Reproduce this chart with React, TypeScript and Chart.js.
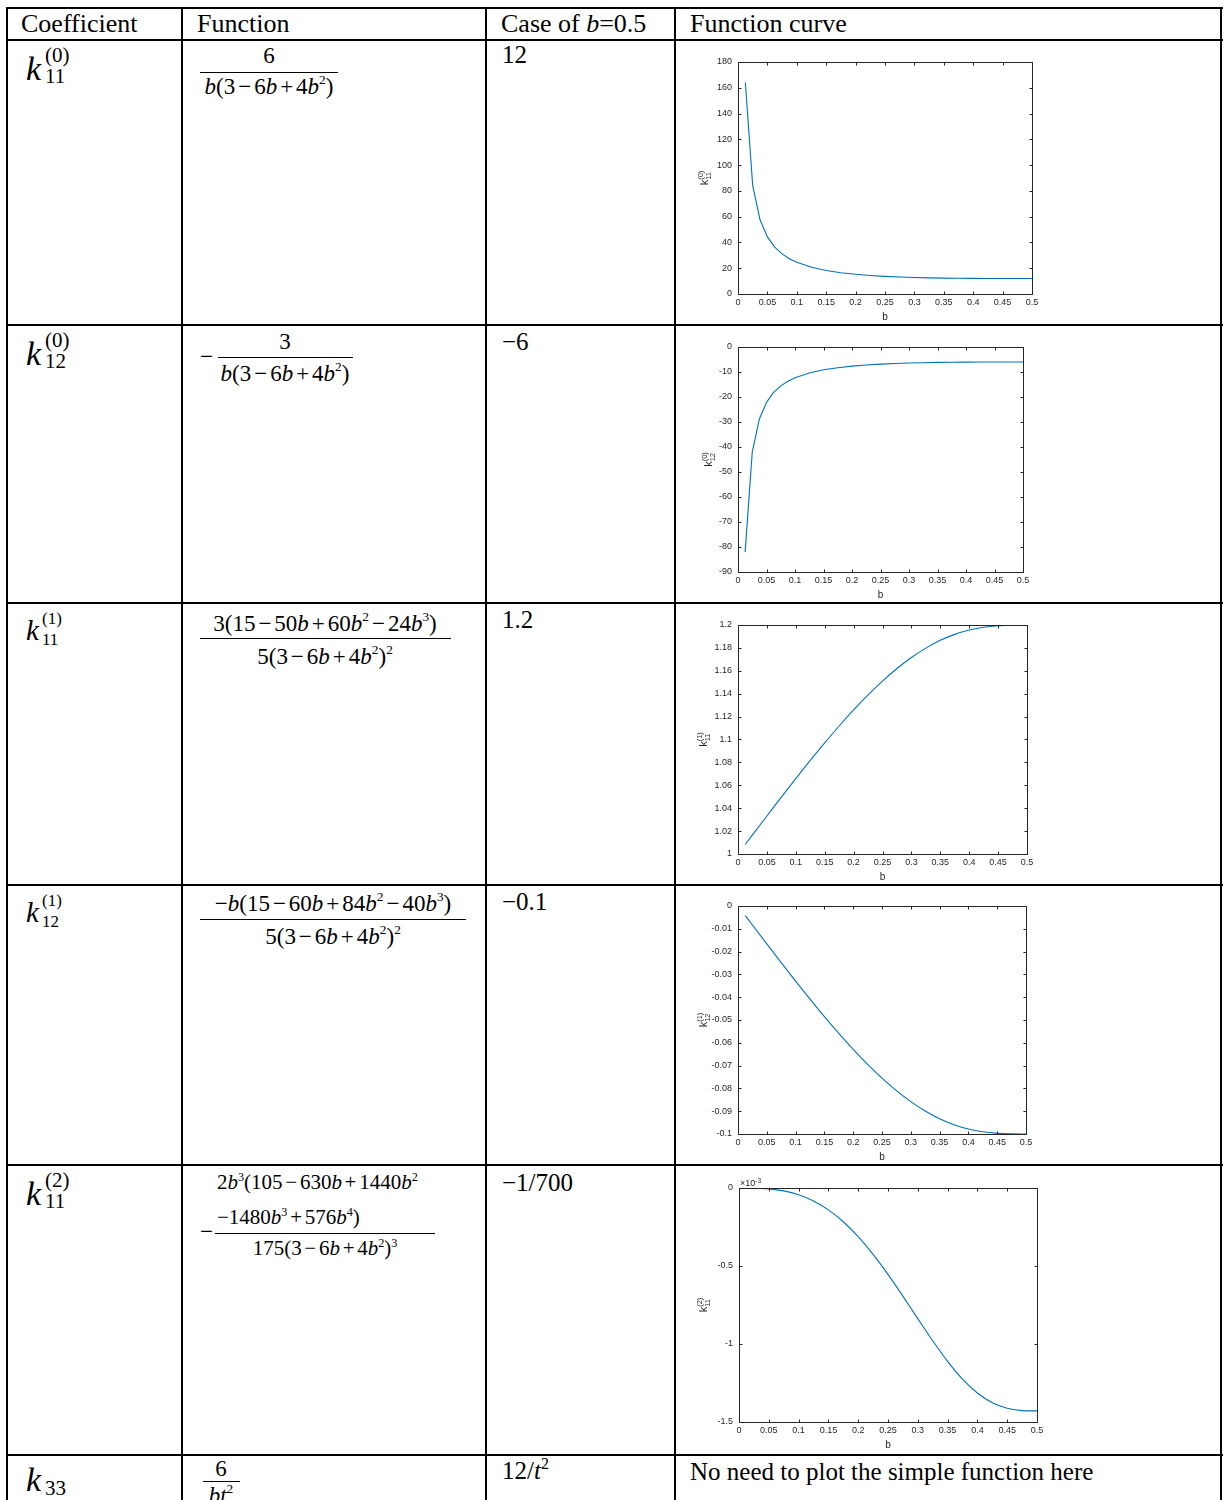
import React, { useEffect, useRef } from "react";
import { Chart, registerables } from "chart.js";

Chart.register(...registerables);

// ---------------- data ----------------
const B_FINE = [0.0125, 0.025, 0.0375, 0.05, 0.0625, 0.075, 0.0875, 0.1, 0.125, 0.15, 0.175, 0.2, 0.225, 0.25, 0.275, 0.3, 0.325, 0.35, 0.375, 0.4, 0.425, 0.45, 0.475, 0.5];
const K11_0 = [164.07, 84.14, 57.54, 44.28, 36.36, 31.1, 27.37, 24.59, 20.76, 18.26, 16.54, 15.31, 14.4, 13.71, 13.2, 12.82, 12.54, 12.33, 12.19, 12.1, 12.04, 12.01, 12.0, 12.0];
const K12_0 = [-82.04, -42.07, -28.77, -22.14, -18.18, -15.55, -13.68, -12.3, -10.38, -9.13, -8.27, -7.65, -7.2, -6.86, -6.6, -6.41, -6.27, -6.16, -6.1, -6.05, -6.02, -6.0, -6.0, -6.0];
const B_COARSE = [0.0125, 0.025, 0.05, 0.075, 0.1, 0.125, 0.15, 0.175, 0.2, 0.225, 0.25, 0.275, 0.3, 0.325, 0.35, 0.375, 0.4, 0.425, 0.45, 0.475, 0.5];
const K11_1 = [1.0083, 1.0167, 1.0332, 1.0497, 1.0658, 1.0817, 1.097, 1.1118, 1.1258, 1.1389, 1.151, 1.162, 1.1716, 1.1798, 1.1866, 1.1918, 1.1956, 1.1981, 1.1994, 1.1999, 1.2];
const K12_1 = [-0.00417, -0.00833, -0.01662, -0.02483, -0.03292, -0.04083, -0.04851, -0.05588, -0.06289, -0.06946, -0.07551, -0.08098, -0.0858, -0.08992, -0.09329, -0.09592, -0.09782, -0.09904, -0.09971, -0.09996, -0.1];
const K11_2 = [-0.0000000868, -0.000000693, -0.00000552, -0.00001848, -0.00004325, -0.000083, -0.0001403, -0.0002165, -0.0003118, -0.0004253, -0.0005539, -0.0006934, -0.0008376, -0.0009795, -0.0011109, -0.0012245, -0.0013142, -0.0013765, -0.0014122, -0.0014269, -0.0014286];

const X_RANGE = [0, 0.5, 0.05];
const Y_RANGE_1 = [0, 180, 20];
const Y_RANGE_2 = [-90, 0, 10];
const Y_RANGE_3 = [1, 1.2, 0.02];
const Y_RANGE_4 = [-0.1, 0, 0.01];
const Y_RANGE_5 = [-0.0015, 0, 0.0005];

const HEADERS = ["Coefficient", "Function", "Case of b=0.5", "Function curve"];
const CASE_VALUES = ["12", "−6", "1.2", "−0.1", "−1/700"];

// ---------------- styling / layout ----------------
const SERIF = '"Liberation Serif","Times New Roman",Times,serif';
const SANS = '"Liberation Sans", Arial, Helvetica, sans-serif';
const AXIS_COLOR = "#262626";
const LINE_COLOR = "#0072BD";

const fmt = (mult: number) => (v: any) => {
  const n = parseFloat((Number(v) * mult).toFixed(4));
  return String(n === 0 ? 0 : n);
};

const matlabPlugin = {
  id: "matlab",
  afterDraw(chart: any) {
    const o = chart.options.plugins.matlab;
    const { ctx, chartArea: a } = chart;
    const xs = chart.scales.x;
    const ys = chart.scales.y;
    const L = a.left, R = a.right, T = a.top, B = a.bottom;
    ctx.save();
    ctx.strokeStyle = AXIS_COLOR;
    ctx.lineWidth = 1;
    ctx.beginPath();
    ctx.rect(L + 0.5, T + 0.5, R - L, B - T);
    const TL = 3;
    xs.ticks.forEach((t: any) => {
      const p = Math.round(xs.getPixelForValue(t.value)) + 0.5;
      ctx.moveTo(p, B + 0.5);
      ctx.lineTo(p, B + 0.5 - TL);
      ctx.moveTo(p, T + 0.5);
      ctx.lineTo(p, T + 0.5 + TL);
    });
    ys.ticks.forEach((t: any) => {
      const p = Math.round(ys.getPixelForValue(t.value)) + 0.5;
      ctx.moveTo(L + 0.5, p);
      ctx.lineTo(L + 0.5 + TL, p);
      ctx.moveTo(R + 0.5, p);
      ctx.lineTo(R + 0.5 - TL, p);
    });
    ctx.stroke();

    ctx.fillStyle = AXIS_COLOR;
    // x title
    ctx.font = `10px ${SANS}`;
    ctx.textAlign = "center";
    ctx.textBaseline = "middle";
    ctx.fillText("b", (L + R) / 2, B + 23);

    // y title k_{sub}^{sup}, rotated
    ctx.save();
    ctx.translate(L - o.titleOff + 4, (T + B) / 2);
    ctx.rotate(-Math.PI / 2);
    ctx.textAlign = "left";
    ctx.textBaseline = "alphabetic";
    ctx.font = `11px ${SANS}`;
    const wk = ctx.measureText("k").width;
    ctx.font = `7.5px ${SANS}`;
    const ws = Math.max(ctx.measureText(o.sup).width, ctx.measureText(o.sub).width);
    const start = -(wk + ws) / 2;
    ctx.font = `11px ${SANS}`;
    ctx.fillText("k", start, 0);
    ctx.font = `7.5px ${SANS}`;
    ctx.fillText(o.sup, start + wk, -5);
    ctx.fillText(o.sub, start + wk, 3);
    ctx.restore();

    if (o.multiplier) {
      ctx.textAlign = "left";
      ctx.textBaseline = "alphabetic";
      ctx.font = `9px ${SANS}`;
      const m = "×10";
      ctx.fillText(m, L + 1, T - 2);
      const wm = ctx.measureText(m).width;
      ctx.font = `6.5px ${SANS}`;
      ctx.fillText("-3", L + 1 + wm, T - 5);
    }
    ctx.restore();
  },
};

type PlotSpec = {
  xs: number[];
  ys: number[];
  yr: number[];
  pl: number;
  pr: number;
  pt: number;
  pb: number;
  sup: string;
  sub: string;
  titleOff: number;
  smooth: boolean;
  mult: number;
};

const YW = 60, PT = 16, PR = 14, XH = 34;

function MatlabPlot({ s }: { s: PlotSpec }) {
  const ref = useRef<HTMLCanvasElement>(null);
  const w = s.pr - s.pl + YW + PR;
  const h = s.pb - s.pt + PT + XH;
  useEffect(() => {
    const chart = new Chart(ref.current as HTMLCanvasElement, {
      type: "line",
      data: {
        datasets: [
          {
            data: s.xs.map((x, i) => ({ x, y: s.ys[i] })),
            borderColor: LINE_COLOR,
            borderWidth: 1.1,
            pointRadius: 0,
            fill: false,
            tension: 0,
            cubicInterpolationMode: s.smooth ? "monotone" : "default",
          } as any,
        ],
      },
      options: {
        responsive: false,
        animation: false,
        devicePixelRatio: 1,
        layout: { padding: { left: 0, top: PT, right: PR, bottom: 0 } },
        plugins: {
          legend: { display: false },
          tooltip: { enabled: false },
          matlab: { sup: s.sup, sub: s.sub, titleOff: s.titleOff, multiplier: s.mult !== 1 },
        } as any,
        scales: {
          x: {
            type: "linear",
            min: X_RANGE[0],
            max: X_RANGE[1],
            grid: { display: false, drawTicks: false },
            border: { display: false },
            ticks: {
              stepSize: X_RANGE[2],
              autoSkip: false,
              maxRotation: 0,
              minRotation: 0,
              padding: 3,
              color: AXIS_COLOR,
              font: { family: SANS, size: 9 },
              callback: fmt(1),
            },
            afterFit: (sc: any) => {
              sc.height = XH;
              sc.paddingLeft = 0;
              sc.paddingRight = 0;
            },
          },
          y: {
            type: "linear",
            min: s.yr[0],
            max: s.yr[1],
            grid: { display: false, drawTicks: false },
            border: { display: false },
            ticks: {
              stepSize: s.yr[2],
              autoSkip: false,
              padding: 6,
              color: AXIS_COLOR,
              font: { family: SANS, size: 9 },
              callback: fmt(s.mult),
            },
            afterFit: (sc: any) => {
              sc.width = YW;
              sc.paddingTop = 0;
              sc.paddingBottom = 0;
            },
          },
        },
      } as any,
      plugins: [matlabPlugin],
    });
    return () => chart.destroy();
  }, []);
  return (
    <canvas
      ref={ref}
      width={w}
      height={h}
      style={{ position: "absolute", left: s.pl - YW, top: s.pt - PT, width: w, height: h, display: "block" }}
    />
  );
}

const PLOTS: PlotSpec[] = [
  { xs: B_FINE, ys: K11_0, yr: Y_RANGE_1, pl: 738, pr: 1032, pt: 62, pb: 294, sup: "(0)", sub: "11", titleOff: 34, smooth: false, mult: 1 },
  { xs: B_FINE, ys: K12_0, yr: Y_RANGE_2, pl: 738, pr: 1023, pt: 347, pb: 572, sup: "(0)", sub: "12", titleOff: 30, smooth: false, mult: 1 },
  { xs: B_COARSE, ys: K11_1, yr: Y_RANGE_3, pl: 738, pr: 1027, pt: 625, pb: 854, sup: "(1)", sub: "11", titleOff: 35, smooth: true, mult: 1 },
  { xs: B_COARSE, ys: K12_1, yr: Y_RANGE_4, pl: 738, pr: 1026, pt: 906, pb: 1134, sup: "(1)", sub: "12", titleOff: 35, smooth: true, mult: 1 },
  { xs: B_COARSE, ys: K11_2, yr: Y_RANGE_5, pl: 739, pr: 1037, pt: 1188, pb: 1422, sup: "(2)", sub: "11", titleOff: 36, smooth: true, mult: 1000 },
];

// ---------------- text helpers ----------------
function Mx({ s, size }: { s: string; size: number }) {
  const out: any[] = [];
  for (let i = 0; i < s.length; i++) {
    const c = s[i];
    if (c === "^") {
      const d = s[++i];
      out.push(
        <span key={i} style={{ fontSize: size * 0.58, position: "relative", top: -size * 0.42 }}>
          {d}
        </span>
      );
    } else if ((c === "−" || c === "+") && i > 0) {
      out.push(
        <span key={i} style={{ margin: `0 ${size * 0.13}px` }}>
          {c}
        </span>
      );
    } else if (c === "b" || c === "t") {
      out.push(<i key={i}>{c}</i>);
    } else {
      out.push(<span key={i}>{c}</span>);
    }
  }
  return <>{out}</>;
}

function T({ x, bl, size, center, italic, children }: any) {
  return (
    <div
      style={{
        position: "absolute",
        left: x,
        top: bl - 0.8375 * size,
        fontSize: size,
        lineHeight: `${size}px`,
        fontFamily: SERIF,
        fontStyle: italic ? "italic" : "normal",
        whiteSpace: "nowrap",
        color: "#000",
        transform: center ? "translateX(-50%)" : undefined,
      }}
    >
      {children}
    </div>
  );
}

function Bar({ x1, x2, y }: { x1: number; x2: number; y: number }) {
  return <div style={{ position: "absolute", left: x1, top: y, width: x2 - x1, height: 1, background: "#000" }} />;
}

function Coef({ x, bl, k, s, sup, sub, supBl, subBl, sx }: any) {
  return (
    <>
      <T x={x} bl={bl} size={k} italic>
        k
      </T>
      {sup ? (
        <T x={sx} bl={supBl} size={s}>
          {sup}
        </T>
      ) : null}
      <T x={sx} bl={subBl} size={s}>
        {sub}
      </T>
    </>
  );
}

const H_LINES = [8, 40, 325, 603, 885, 1165, 1455];
const V_LINES = [7, 182, 486, 675, 1221];

export default function App() {
  const F = 23;
  return (
    <div
      style={{
        position: "absolute",
        left: 0,
        top: 0,
        width: 1225,
        height: 1500,
        overflow: "hidden",
        background: "#fff",
      }}
    >
      {H_LINES.map((y) => (
        <div key={"h" + y} style={{ position: "absolute", left: 6, top: y - 1, width: 1217, height: 2, background: "#000" }} />
      ))}
      {V_LINES.map((x) => (
        <div key={"v" + x} style={{ position: "absolute", left: x - 1, top: 7, width: 2, height: 1500, background: "#000" }} />
      ))}

      {/* header */}
      <T x={21} bl={33} size={26}>{HEADERS[0]}</T>
      <T x={197} bl={33} size={26}>{HEADERS[1]}</T>
      <T x={501} bl={33} size={26}>
        Case of <i>b</i>=0.5
      </T>
      <T x={690} bl={33} size={26}>{HEADERS[3]}</T>

      {/* row 1 */}
      <Coef x={26} bl={80} k={34} s={21} sup="(0)" sub="11" supBl={63} subBl={84} sx={45} />
      <T x={269} bl={63} size={F} center>
        <Mx s="6" size={F} />
      </T>
      <Bar x1={200} x2={338} y={72} />
      <T x={269} bl={94} size={F} center>
        <Mx s="b(3−6b+4b^2)" size={F} />
      </T>
      <T x={502} bl={63} size={25}>{CASE_VALUES[0]}</T>

      {/* row 2 */}
      <Coef x={26} bl={365} k={34} s={21} sup="(0)" sub="12" supBl={348} subBl={369} sx={45} />
      <T x={200} bl={364} size={F}>−</T>
      <T x={285} bl={349} size={F} center>
        <Mx s="3" size={F} />
      </T>
      <Bar x1={218} x2={353} y={357} />
      <T x={285} bl={381} size={F} center>
        <Mx s="b(3−6b+4b^2)" size={F} />
      </T>
      <T x={502} bl={350} size={25}>{CASE_VALUES[1]}</T>

      {/* row 3 */}
      <Coef x={26} bl={640} k={29} s={17} sup="(1)" sub="11" supBl={624} subBl={645} sx={42} />
      <T x={325} bl={631} size={F} center>
        <Mx s="3(15−50b+60b^2−24b^3)" size={F} />
      </T>
      <Bar x1={200} x2={451} y={638} />
      <T x={325} bl={664} size={F} center>
        <Mx s="5(3−6b+4b^2)^2" size={F} />
      </T>
      <T x={502} bl={628} size={25}>{CASE_VALUES[2]}</T>

      {/* row 4 */}
      <Coef x={26} bl={922} k={29} s={17} sup="(1)" sub="12" supBl={906} subBl={927} sx={42} />
      <T x={333} bl={911} size={F} center>
        <Mx s="−b(15−60b+84b^2−40b^3)" size={F} />
      </T>
      <Bar x1={200} x2={466} y={919} />
      <T x={333} bl={944} size={F} center>
        <Mx s="5(3−6b+4b^2)^2" size={F} />
      </T>
      <T x={502} bl={910} size={25}>{CASE_VALUES[3]}</T>

      {/* row 5 */}
      <Coef x={26} bl={1205} k={34} s={21} sup="(2)" sub="11" supBl={1188} subBl={1209} sx={45} />
      <T x={217} bl={1190} size={21}>
        <Mx s="2b^3(105−630b+1440b^2" size={21} />
      </T>
      <T x={217} bl={1225} size={21}>
        <Mx s="−1480b^3+576b^4)" size={21} />
      </T>
      <T x={200} bl={1239} size={F}>−</T>
      <Bar x1={215} x2={435} y={1233} />
      <T x={325} bl={1256} size={21} center>
        <Mx s="175(3−6b+4b^2)^3" size={21} />
      </T>
      <T x={502} bl={1191} size={25}>{CASE_VALUES[4]}</T>

      {/* row 6 */}
      <Coef x={26} bl={1491} k={34} s={21} sub="33" subBl={1496} sx={45} />
      <T x={221} bl={1476} size={F} center>
        <Mx s="6" size={F} />
      </T>
      <Bar x1={203} x2={240} y={1481} />
      <T x={221} bl={1503} size={F} center>
        <Mx s="bt^2" size={F} />
      </T>
      <T x={502} bl={1479} size={25}>
        12/<i>t</i>
        <span style={{ fontSize: 16, position: "relative", top: -10 }}>2</span>
      </T>
      <T x={690} bl={1480} size={25}>No need to plot the simple function here</T>

      {PLOTS.map((p, i) => (
        <MatlabPlot key={i} s={p} />
      ))}
    </div>
  );
}
